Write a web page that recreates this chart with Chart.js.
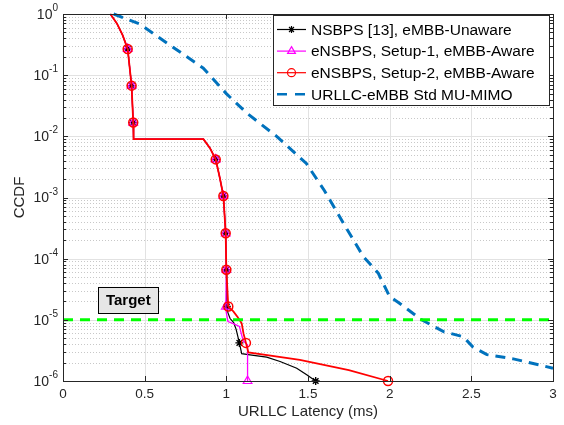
<!DOCTYPE html>
<html>
<head>
<meta charset="utf-8">
<script src="https://cdn.jsdelivr.net/npm/chart.js@4.4.0/dist/chart.umd.min.js"></script>
<style>
  html, body { margin: 0; padding: 0; background: #fff; }
</style>
</head>
<body>
<canvas id="ccdfChart" width="564" height="425"></canvas>
<script>
// ticks
const xTickValues = [0, 0.5, 1, 1.5, 2, 2.5, 3];
const xTickLabels = ['0', '0.5', '1', '1.5', '2', '2.5', '3'];
const yTickExponents = [0, -1, -2, -3, -4, -5, -6];

// NSBPS [13], eMBB-Unaware (black, stars)
const nsbpsX = [0.29, 0.33, 0.365, 0.396, 0.42, 0.43, 0.432, 0.86, 0.9, 0.935, 0.96, 0.982, 0.996, 1.0,
  1.003, 1.01, 1.023, 1.045, 1.06, 1.08, 1.094, 1.145, 1.247, 1.329, 1.431, 1.492, 1.547];
const nsbpsY = [1, 0.7, 0.45, 0.268, 0.0674, 0.0168, 0.009, 0.009, 0.0064, 0.0042, 0.0021, 0.00106, 0.00026, 6.6e-5,
  1.65e-5, 1.3e-5, 1.05e-5, 9e-6, 7e-6, 4.2e-6, 2.8e-6, 2.68e-6, 2.45e-6, 2.08e-6, 1.62e-6, 1.26e-6, 1e-6];
const nsbpsMarks = [3, 4, 5, 9, 11, 12, 13, 14, 19, 26];

// eNSBPS, Setup-1 (magenta, triangles)
const setup1X = [0.29, 0.33, 0.365, 0.396, 0.42, 0.43, 0.432, 0.86, 0.9, 0.935, 0.96, 0.982, 0.996, 1.0,
  0.997, 1.0, 1.01, 1.05, 1.08, 1.095, 1.104, 1.13, 1.13];
const setup1Y = [1, 0.7, 0.45, 0.268, 0.0674, 0.0168, 0.009, 0.009, 0.0064, 0.0042, 0.0021, 0.00106, 0.00026, 6.6e-5,
  1.65e-5, 1.3e-5, 9.4e-6, 8.5e-6, 7.8e-6, 5.5e-6, 4.5e-6, 3.9e-6, 1e-6];
const setup1Marks = [3, 4, 5, 9, 11, 12, 13, 14, 22];

// eNSBPS, Setup-2 (red, circles)
const setup2X = [0.29, 0.33, 0.365, 0.396, 0.42, 0.43, 0.432, 0.86, 0.9, 0.935, 0.96, 0.982, 0.996, 1.0,
  1.012, 1.043, 1.07, 1.094, 1.105, 1.12, 1.135, 1.45, 1.75, 1.99];
const setup2Y = [1, 0.7, 0.45, 0.268, 0.0674, 0.0168, 0.009, 0.009, 0.0064, 0.0042, 0.0021, 0.00106, 0.00026, 6.6e-5,
  1.65e-5, 1.37e-5, 1.1e-5, 8.8e-6, 6e-6, 4.2e-6, 2.93e-6, 2.22e-6, 1.5e-6, 1e-6];
const setup2Marks = [3, 4, 5, 9, 11, 12, 13, 14, 19, 23];

// URLLC-eMBB Std MU-MIMO (blue dashed)
const stdX = [0.31, 0.47, 0.655, 0.859, 1.0, 1.125, 1.31, 1.49, 1.6, 1.717, 1.839, 1.93, 2.0, 2.06, 2.19,
  2.33, 2.45, 2.51, 2.595, 2.757, 3.0];
const stdY = [1, 0.687, 0.31, 0.13, 0.05, 0.024, 0.0099, 0.0036, 0.0013, 3.8e-4, 1.08e-4, 5.8e-5, 2.4e-5,
  1.87e-5, 1.02e-5, 6.4e-6, 5.3e-6, 3.6e-6, 2.7e-6, 2.3e-6, 1.62e-6];

// target line
const targetX = [0, 3];
const targetY = [1e-5, 1e-5];

const FONT = '"Liberation Sans", Arial, Helvetica, sans-serif';
const AXIS_COLOR = '#262626';

function pts(xs, ys) {
  return xs.map((v, i) => ({x: v, y: ys[i]}));
}

function markRadius(marks, r) {
  return ctx => marks.includes(ctx.dataIndex) ? r : 0;
}

function hline(ctx, x1, x2, y) {
  ctx.beginPath(); ctx.moveTo(x1, y); ctx.lineTo(x2, y); ctx.stroke();
}
function vline(ctx, x, y1, y2) {
  ctx.beginPath(); ctx.moveTo(x, y1); ctx.lineTo(x, y2); ctx.stroke();
}

// grid, axes box, labels, target box and legend, drawn MATLAB style
const figurePlugin = {
  id: 'figure',
  beforeDatasetsDraw(chart) {
    const {ctx, chartArea: a, scales: {x, y}} = chart;
    ctx.save();
    ctx.lineWidth = 1;
    // minor y grid (dotted)
    ctx.strokeStyle = '#c8c8c8';
    ctx.setLineDash([1, 2]);
    for (let e = -6; e < 0; e++) {
      for (let k = 2; k <= 9; k++) {
        const py = Math.round(y.getPixelForValue(k * Math.pow(10, e))) + 0.5;
        hline(ctx, a.left, a.right, py);
      }
    }
    // major grid
    ctx.setLineDash([]);
    ctx.strokeStyle = '#e2e2e2';
    yTickExponents.forEach(e => {
      const py = Math.round(y.getPixelForValue(Math.pow(10, e))) + 0.5;
      hline(ctx, a.left, a.right, py);
    });
    xTickValues.forEach(v => {
      const px = Math.round(x.getPixelForValue(v)) + 0.5;
      vline(ctx, px, a.top, a.bottom);
    });
    ctx.restore();
  },
  afterDraw(chart) {
    const {ctx, chartArea: a, scales: {x, y}} = chart;
    ctx.save();
    // box
    ctx.strokeStyle = AXIS_COLOR;
    ctx.lineWidth = 1;
    ctx.strokeRect(Math.round(a.left) + 0.5, Math.round(a.top) + 0.5,
      Math.round(a.right - a.left), Math.round(a.bottom - a.top));

    // y ticks (inward, both sides)
    for (let e = -6; e <= 0; e++) {
      for (let k = 1; k <= 9; k++) {
        if (e === 0 && k > 1) break;
        const py = Math.round(y.getPixelForValue(k * Math.pow(10, e))) + 0.5;
        const len = k === 1 ? 5 : 3;
        hline(ctx, a.left, a.left + len, py);
        hline(ctx, a.right - len, a.right, py);
      }
    }
    // x ticks
    xTickValues.forEach(v => {
      const px = Math.round(x.getPixelForValue(v)) + 0.5;
      vline(ctx, px, a.bottom - 5, a.bottom);
      vline(ctx, px, a.top, a.top + 5);
    });

    // tick labels
    ctx.fillStyle = AXIS_COLOR;
    ctx.font = '13.5px ' + FONT;
    ctx.textAlign = 'center';
    ctx.textBaseline = 'top';
    xTickValues.forEach((v, i) => {
      ctx.fillText(xTickLabels[i], x.getPixelForValue(v), a.bottom + 7);
    });
    yTickExponents.forEach(e => {
      const py = y.getPixelForValue(Math.pow(10, e));
      const expStr = String(e);
      ctx.font = '10px ' + FONT;
      const ew = ctx.measureText(expStr).width;
      ctx.textAlign = 'left';
      ctx.textBaseline = 'alphabetic';
      const right = a.left - 5;
      ctx.fillText(expStr, right - ew, py - 3);
      ctx.font = '14px ' + FONT;
      ctx.textAlign = 'right';
      ctx.textBaseline = 'middle';
      ctx.fillText('10', right - ew, py + 1);
    });

    // axis titles
    ctx.font = '15px ' + FONT;
    ctx.textAlign = 'center';
    ctx.textBaseline = 'middle';
    ctx.fillText('URLLC Latency (ms)', (a.left + a.right) / 2, 412);
    ctx.save();
    ctx.translate(20, (a.top + a.bottom) / 2);
    ctx.rotate(-Math.PI / 2);
    ctx.fillText('CCDF', 0, 0);
    ctx.restore();

    // Target text box
    const tx = x.getPixelForValue(0.4);
    const ty = y.getPixelForValue(2.12e-5);
    ctx.fillStyle = '#e6e6e6';
    ctx.fillRect(tx - 30, ty - 13, 60, 26);
    ctx.strokeStyle = '#000';
    ctx.strokeRect(Math.round(tx - 30) + 0.5, Math.round(ty - 13) + 0.5, 60, 26);
    ctx.fillStyle = '#000';
    ctx.font = 'bold 15px ' + FONT;
    ctx.fillText('Target', tx, ty + 1);

    // legend
    const lx = 273, ly = 15, lw = 276, lh = 90;
    ctx.fillStyle = '#fff';
    ctx.fillRect(lx, ly, lw, lh);
    ctx.strokeStyle = AXIS_COLOR;
    ctx.strokeRect(lx + 0.5, ly + 0.5, lw, lh);
    const entries = chart.data.datasets.filter(d => d.inLegend);
    entries.forEach((d, i) => {
      const rowY = ly + 14.5 + i * 21.6;
      ctx.save();
      ctx.strokeStyle = d.borderColor;
      ctx.lineWidth = d.legendLineWidth || d.borderWidth;
      ctx.setLineDash(d.legendDash || []);
      hline(ctx, lx + 4, lx + 33, rowY);
      ctx.setLineDash([]);
      if (d.legendMarker) {
        ctx.fillStyle = 'rgba(0,0,0,0)';
        ctx.lineWidth = 1.2;
        Chart.helpers.drawPoint(ctx, {pointStyle: d.pointStyle, radius: d.legendMarker, rotation: 0, borderWidth: 1.2}, lx + 18.5, rowY);
      }
      ctx.restore();
      ctx.fillStyle = '#000';
      ctx.font = '15.5px ' + FONT;
      ctx.textAlign = 'left';
      ctx.textBaseline = 'middle';
      ctx.fillText(d.label, lx + 38, rowY + 1);
    });
    ctx.restore();
  }
};

new Chart(document.getElementById('ccdfChart').getContext('2d'), {
  type: 'line',
  data: {
    datasets: [
      {
        label: 'NSBPS [13], eMBB-Unaware',
        data: pts(nsbpsX, nsbpsY),
        borderColor: '#000000',
        borderWidth: 1.2,
        pointStyle: 'star',
        pointRadius: markRadius(nsbpsMarks, 4),
        pointBorderColor: '#000000',
        pointBorderWidth: 1.4,
        pointBackgroundColor: 'rgba(0,0,0,0)',
        order: 3,
        inLegend: true,
        legendLineWidth: 1.2,
        legendMarker: 3.5
      },
      {
        label: 'eNSBPS, Setup-1, eMBB-Aware',
        data: pts(setup1X, setup1Y),
        borderColor: '#ff00ff',
        borderWidth: 1.3,
        pointStyle: 'triangle',
        pointRadius: markRadius(setup1Marks, 5),
        pointBorderColor: '#ff00ff',
        pointBorderWidth: 1.2,
        pointBackgroundColor: 'rgba(0,0,0,0)',
        order: 2,
        inLegend: true,
        legendLineWidth: 1.2,
        legendMarker: 4.5
      },
      {
        label: 'eNSBPS, Setup-2, eMBB-Aware',
        data: pts(setup2X, setup2Y),
        borderColor: '#ff0000',
        borderWidth: 1.8,
        pointStyle: 'circle',
        pointRadius: markRadius(setup2Marks, 4.5),
        pointBorderColor: '#ff0000',
        pointBorderWidth: 1.5,
        pointBackgroundColor: 'rgba(0,0,0,0)',
        order: 1,
        inLegend: true,
        legendLineWidth: 1.2,
        legendMarker: 4
      },
      {
        label: 'URLLC-eMBB Std MU-MIMO',
        data: pts(stdX, stdY),
        borderColor: '#0072bd',
        borderWidth: 3,
        borderDash: [10, 7],
        pointRadius: 0,
        order: 4,
        inLegend: true,
        legendLineWidth: 2.6,
        legendDash: [10, 8]
      },
      {
        label: 'Target',
        data: pts(targetX, targetY),
        borderColor: '#00ff00',
        borderWidth: 3,
        borderDash: [10, 7],
        pointRadius: 0,
        order: 0
      }
    ]
  },
  options: {
    responsive: false,
    animation: false,
    events: [],
    layout: { padding: { left: 63, right: 11, top: 14, bottom: 44 }, autoPadding: false },
    elements: { line: { tension: 0 } },
    datasets: { line: { clip: false } },
    scales: {
      x: { type: 'linear', min: 0, max: 3, display: false },
      y: { type: 'logarithmic', min: 1e-6, max: 1, display: false }
    },
    plugins: { legend: { display: false }, tooltip: { enabled: false } }
  },
  plugins: [figurePlugin]
});
</script>
</body>
</html>
